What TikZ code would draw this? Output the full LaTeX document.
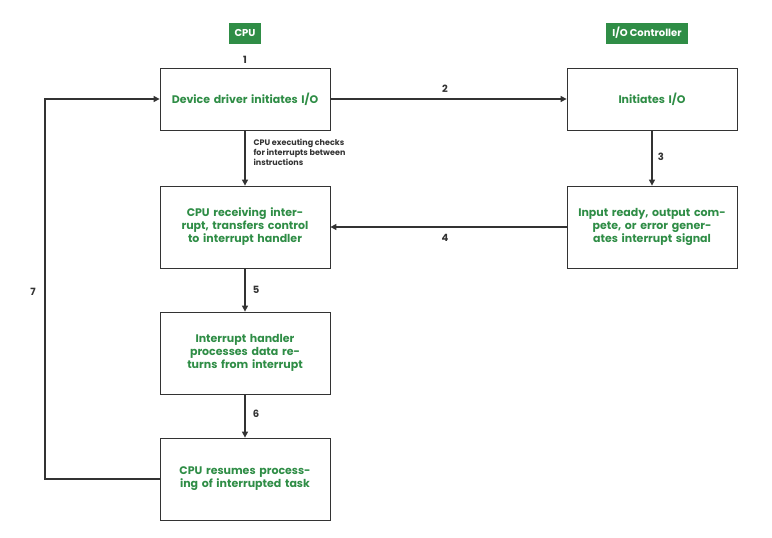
\documentclass[tikz,border=0pt]{standalone}
\usepackage{fontspec}
\setmainfont{Poppins}
\usetikzlibrary{arrows.meta}
\definecolor{gfg}{HTML}{2F8D46}
\definecolor{ln}{HTML}{333333}
\begin{document}
\begin{tikzpicture}[x=1pt,y=-1pt,
 box/.style={draw=ln,line width=0.8pt,minimum width=170pt,text width=160pt,align=center,font=\bfseries\fontsize{11}{13}\selectfont,text=gfg,inner sep=0pt},
 hdr/.style={fill=gfg,text=white,font=\bfseries\fontsize{10}{12}\selectfont,inner xsep=6pt,minimum height=21pt},
 lab/.style={font=\bfseries\fontsize{10}{12}\selectfont,text=ln},
 arr/.style={draw=ln,line width=1.2pt,-{Triangle[length=6pt,width=6pt]}}]
\useasboundingbox (0,0) rectangle (772,538);
\node[hdr] (h1) at (245,33) {CPU};
\node[hdr] (h2) at (647,33) {I/O Controller};
\node[box,minimum height=62pt] (b1) at (245,99) {Device driver initiates I/O};
\node[box,minimum height=62pt] (b2) at (652,99) {Initiates I/O};
\node[box,minimum height=82pt] (b3) at (245,227) {CPU receiving interrupt, transfers control to interrupt handler};
\node[box,minimum height=82pt] (b4) at (652,227) {Input ready, output compete, or error generates interrupt signal};
\node[box,minimum height=82pt] (b5) at (245,353) {Interrupt handler processes data returns from interrupt};
\node[box,minimum height=82pt] (b6) at (245,479) {CPU resumes processing of interrupted task};
\node[lab] (l1) at (245,60) {1};
\node[lab] (l2) at (445,89) {2};
\node[lab] (l3) at (661,157) {3};
\node[lab] (l4) at (445,238) {4};
\node[lab] (l5) at (256,290) {5};
\node[lab] (l6) at (256,414) {6};
\node[lab] (l7) at (33,292) {7};
\node[lab,anchor=north west,align=left,font=\bfseries\fontsize{8}{10}\selectfont] (note) at (250,136) {CPU executing checks\\for interrupts between\\instructions};
\draw[arr] (b1) -- (b2);
\draw[arr] (b2) -- (b4);
\draw[arr] (b4) -- (b3);
\draw[arr] (b1) -- (b3);
\draw[arr] (b3) -- (b5);
\draw[arr] (b5) -- (b6);
\coordinate (c1) at (45,479);
\coordinate (c2) at (45,99);
\draw[arr] (b6.west) -- (c1) -- (c2) -- (b1.west);
\end{tikzpicture}
\end{document}
